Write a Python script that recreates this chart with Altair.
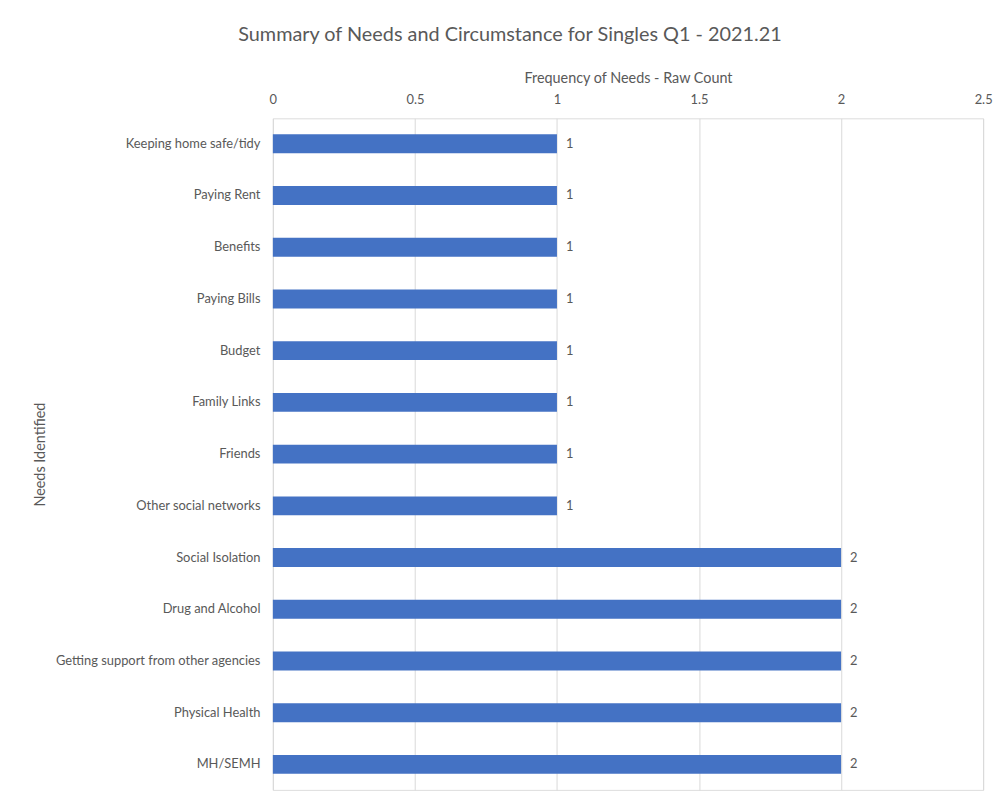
import altair as alt
import pandas as pd

needs = ["Keeping home safe/tidy", "Paying Rent", "Benefits", "Paying Bills", "Budget",
         "Family Links", "Friends", "Other social networks", "Social Isolation",
         "Drug and Alcohol", "Getting support from other agencies", "Physical Health", "MH/SEMH"]
counts = [1, 1, 1, 1, 1, 1, 1, 1, 2, 2, 2, 2, 2]
ticks = [0, 0.5, 1, 1.5, 2, 2.5]

df = pd.DataFrame({"need": needs, "count": counts})
FONT = "Lato"

x = alt.X("count:Q", scale=alt.Scale(domain=[0, 2.5], nice=False),
          axis=alt.Axis(orient="top", values=ticks, format="~g", title="Frequency of Needs - Raw Count",
                        domain=False, ticks=False, grid=True, gridColor="#d9d9d9",
                        labelColor="#595959", labelFontSize=13, labelFont=FONT, labelPadding=12,
                        titleColor="#595959", titleFontSize=14.5, titleFont=FONT, titleFontWeight="normal",
                        titlePadding=8, labelFlush=False))
y = alt.Y("need:N", sort=needs,
          scale=alt.Scale(paddingInner=0.635, paddingOuter=0.31),
          axis=alt.Axis(title="Needs Identified", domain=False, ticks=False,
                        labelColor="#595959", labelFontSize=13, labelFont=FONT, labelPadding=13,
                        labelLimit=300, titleColor="#595959", titleFontSize=14.5, titleFont=FONT,
                        titleFontWeight="normal", titleX=-227))

base = alt.Chart(df)
bars = base.mark_bar(color="#4472C4").encode(x=x, y=y)
labels = base.mark_text(align="left", baseline="middle", dx=9, color="#595959",
                        fontSize=13, font=FONT).encode(x="count:Q", y=alt.Y("need:N", sort=needs), text="count:Q")

chart = (bars + labels).properties(
    width=716, height=677,
    title=alt.TitleParams("Summary of Needs and Circumstance for Singles Q1 - 2021.21",
                          fontSize=20, font=FONT, fontWeight="normal", color="#595959",
                          anchor="middle", dx=-119, offset=26),
    autosize=alt.AutoSizeParams(type="none"),
    padding={"left": 267, "top": 108, "right": 15, "bottom": 10},
).configure_view(stroke=None).configure(background="white")

chart.save("out.html", embed_options={"renderer": "svg", "actions": False})
